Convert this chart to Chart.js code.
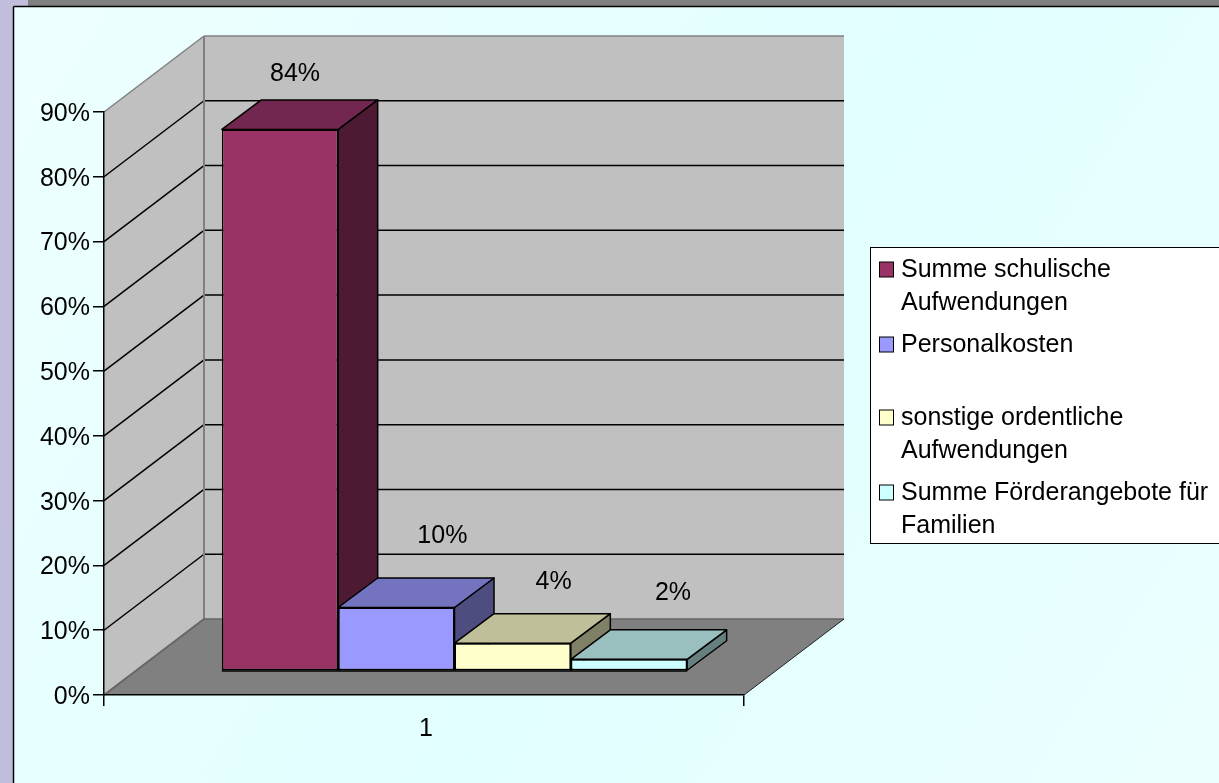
<!DOCTYPE html>
<html lang="de">
<head>
    <meta charset="UTF-8">
    <title>Aufwendungen</title>
    <script src="https://cdn.jsdelivr.net/npm/chart.js"></script>
    <style>
        html, body { margin: 0; padding: 0; background: #E6FFFF; overflow: hidden; }
        canvas { display: block; }
    </style>
</head>
<body>
    <canvas id="chart" width="1219" height="783"></canvas>
    <script>
        // Werte
        const categories = ["1"];
        const seriesNames = ["Summe schulische Aufwendungen", "Personalkosten", "sonstige ordentliche Aufwendungen", "Summe Förderangebote für Familien"];
        const seriesValues = [83.6, 9.8, 4.3, 1.8];
        const seriesColors = ["#993366", "#9999FF", "#FFFFCC", "#CCFFFF"];
        const topColors = ["#732650", "#7373BF", "#BFBF99", "#99BFBF"];
        const sideColors = ["#4D1933", "#4D4D80", "#808066", "#668080"];
        const legendLines = [["Summe schulische", "Aufwendungen"], ["Personalkosten"], ["sonstige ordentliche", "Aufwendungen"], ["Summe Förderangebote für", "Familien"]];

        const FONT = '25px "Liberation Sans", Arial, sans-serif';
        const wall = { x: 100, y: -76 };      // Tiefe der Rückwand
        const barShift = { x: 30.5, y: -24 }; // Balken stehen mitten auf dem Boden
        const barDepth = { x: 39.5, y: -29.5 };
        const labelOffsets = [[15, -55.5], [46, -71], [41, -61], [44, -66]];
        const legendRows = [269, 344, 417, 492];

        function poly(ctx, pts, fill, stroke, lw) {
            ctx.beginPath();
            pts.forEach((p, i) => i ? ctx.lineTo(p[0], p[1]) : ctx.moveTo(p[0], p[1]));
            ctx.closePath();
            if (fill) { ctx.fillStyle = fill; ctx.fill(); }
            if (stroke) { ctx.strokeStyle = stroke; ctx.lineWidth = lw || 1.5; ctx.stroke(); }
        }

        function line(ctx, x1, y1, x2, y2, color, lw) {
            ctx.beginPath();
            ctx.moveTo(x1, y1);
            ctx.lineTo(x2, y2);
            ctx.strokeStyle = color;
            ctx.lineWidth = lw || 1.5;
            ctx.stroke();
        }

        const scene = {
            id: "scene",
            // Hintergrund, Wände und Boden
            beforeDraw(chart) {
                const ctx = chart.ctx;
                const { left, right, top, bottom } = chart.chartArea;
                const y = chart.scales.y;
                ctx.save();
                const bg = ctx.createLinearGradient(14, 7, 1219, 783);
                bg.addColorStop(0, "#EEFFFF");
                bg.addColorStop(0.55, "#E2FFFF");
                bg.addColorStop(1, "#ECFFFF");
                ctx.fillStyle = bg;
                ctx.fillRect(0, 0, 1219, 783);
                ctx.fillStyle = "#C0BEDC";
                ctx.fillRect(0, 0, 13, 783);
                ctx.fillRect(0, 0, 28, 6);
                ctx.fillStyle = "#808080";
                ctx.fillRect(28, 0, 1191, 6);
                line(ctx, 13.5, 6.5, 1219, 6.5, "#000", 1.5);
                line(ctx, 13.5, 6.5, 13.5, 783, "#000", 1.5);

                const bx = left + wall.x, by = bottom + wall.y;
                const tx = right + wall.x, ty = top + wall.y;
                poly(ctx, [[left, top], [bx, ty], [bx, by], [left, bottom]], "#C0C0C0");
                poly(ctx, [[bx, ty], [tx, ty], [tx, by], [bx, by]], "#C0C0C0");
                poly(ctx, [[left, bottom], [right, bottom], [tx, by], [bx, by]], "#808080");

                y.ticks.forEach(t => {
                    if (t.value === 0 || t.value === y.max) return;
                    const py = y.getPixelForValue(t.value);
                    line(ctx, left, py, bx, py + wall.y, "#000");
                    line(ctx, bx, py + wall.y, tx, py + wall.y, "#000");
                });
                line(ctx, left, top, bx, ty, "#808080");
                line(ctx, bx, ty, tx, ty, "#808080");
                line(ctx, bx, ty, bx, by, "#808080", 2);
                line(ctx, left, bottom, bx, by, "#666", 2);
                line(ctx, bx, by, tx, by, "#666", 1.5);
                line(ctx, right, bottom, tx, by, "#222", 1);
                ctx.restore();
            },
            // Deckel und Seiten der Balken, danach die Vorderseiten verschoben
            beforeDatasetsDraw(chart) {
                const ctx = chart.ctx;
                chart.data.datasets.forEach((ds, i) => {
                    const b = chart.getDatasetMeta(i).data[0];
                    const l = b.x - b.width / 2 + barShift.x, r = b.x + b.width / 2 + barShift.x;
                    const t = b.y + barShift.y, u = b.base + barShift.y;
                    const dx = barDepth.x, dy = barDepth.y;
                    ctx.save();
                    ctx.lineJoin = "round";
                    poly(ctx, [[r, t], [r + dx, t + dy], [r + dx, u + dy], [r, u]], sideColors[i], "#000");
                    poly(ctx, [[l, t], [l + dx, t + dy], [r + dx, t + dy], [r, t]], topColors[i], "#000");
                    ctx.restore();
                });
                ctx.save();
                ctx.translate(barShift.x, barShift.y);
            },
            afterDatasetsDraw(chart) {
                const ctx = chart.ctx;
                ctx.restore();
                ctx.save();
                // Unterkante der Balken
                const bottomY = chart.scales.y.getPixelForValue(0) + barShift.y;
                chart.data.datasets.forEach((ds, i) => {
                    const b = chart.getDatasetMeta(i).data[0];
                    line(ctx, b.x - b.width / 2 + barShift.x, bottomY, b.x + b.width / 2 + barShift.x, bottomY, "#000", 1.5);
                });
                ctx.font = FONT;
                ctx.fillStyle = "#000";
                ctx.textAlign = "center";
                ctx.textBaseline = "middle";
                chart.data.datasets.forEach((ds, i) => {
                    const b = chart.getDatasetMeta(i).data[0];
                    const pos = [b.x + barShift.x + labelOffsets[i][0], b.y + barShift.y + labelOffsets[i][1]];
                    ctx.fillText(Math.round(seriesValues[i]) + "%", pos[0], pos[1]);
                });
                ctx.restore();
            },
            // Legende rechts, läuft über den Bildrand hinaus
            afterDraw(chart) {
                const ctx = chart.ctx;
                ctx.save();
                ctx.fillStyle = "#FFF";
                ctx.fillRect(870.5, 247.5, 360, 296);
                ctx.strokeStyle = "#000";
                ctx.lineWidth = 1;
                ctx.strokeRect(870.5, 247.5, 360, 296);
                ctx.font = FONT;
                ctx.textAlign = "left";
                ctx.textBaseline = "middle";
                legendLines.forEach((lines, i) => {
                    const ry = legendRows[i];
                    ctx.fillStyle = seriesColors[i];
                    ctx.fillRect(879.5, ry - 7, 14, 15);
                    ctx.strokeStyle = "#000";
                    ctx.strokeRect(879.5, ry - 7, 14, 15);
                    ctx.fillStyle = "#000";
                    lines.forEach((txt, k) => ctx.fillText(txt, 901, ry + 1 + k * 33));
                });
                ctx.restore();
            }
        };

        new Chart(document.getElementById("chart"), {
            type: "bar",
            data: {
                labels: categories,
                datasets: seriesNames.map((name, i) => ({
                    label: name,
                    data: [seriesValues[i]],
                    backgroundColor: seriesColors[i],
                    borderColor: "#000",
                    borderWidth: 1.5,
                    borderSkipped: false,
                    clip: false
                }))
            },
            options: {
                responsive: false,
                animation: false,
                events: [],
                categoryPercentage: 0.727,
                barPercentage: 1,
                layout: { padding: { left: 0, top: 112, right: 475, bottom: 0 } },
                plugins: { legend: { display: false }, tooltip: { enabled: false } },
                scales: {
                    x: {
                        afterFit(s) { s.height = 88; },
                        border: { color: "#000", width: 1.5 },
                        grid: { drawOnChartArea: false, color: "#000", lineWidth: 1.5, tickLength: 11 },
                        ticks: { color: "#000", font: { family: "Liberation Sans", size: 25 }, padding: 8, labelOffset: 2 }
                    },
                    y: {
                        min: 0,
                        max: 90,
                        afterFit(s) { s.width = 104; },
                        border: { color: "#000", width: 1.5 },
                        grid: { drawOnChartArea: false, color: "#000", lineWidth: 1.5, tickLength: 11 },
                        ticks: {
                            stepSize: 10,
                            color: "#000",
                            font: { family: "Liberation Sans", size: 25 },
                            padding: 3,
                            labelOffset: 2,
                            callback: v => v + "%"
                        }
                    }
                }
            },
            plugins: [scene]
        });
    </script>
</body>
</html>
